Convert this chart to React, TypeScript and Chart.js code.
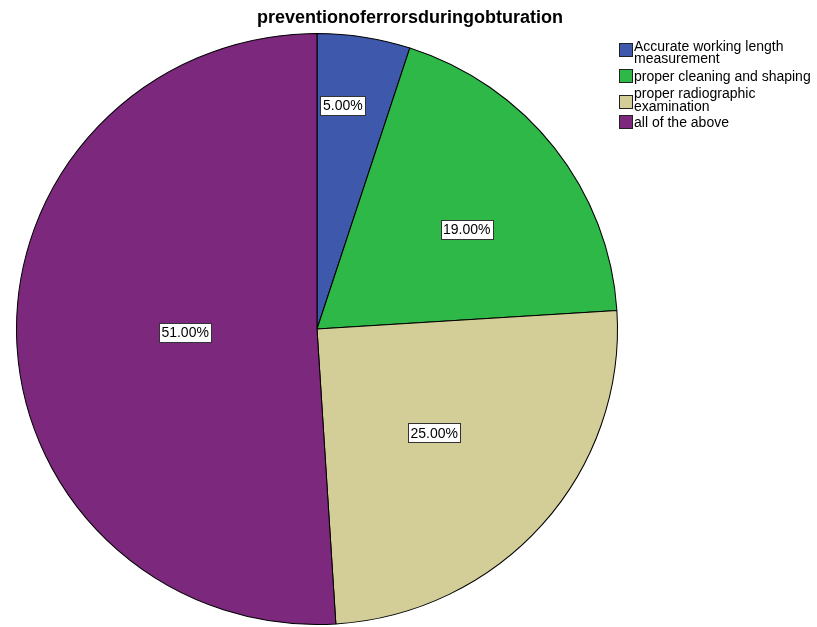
import React, { useEffect, useRef } from "react";
import { Chart, registerables } from "chart.js";

Chart.register(...registerables);

const titleText = "preventionoferrorsduringobturation";
const categories = [
  ["Accurate working length", "measurement"],
  ["proper cleaning and shaping"],
  ["proper radiographic", "examination"],
  ["all of the above"],
];
const percents = [5, 19, 25, 51];
const sliceColors = ["#3E58AC", "#2EB848", "#D3CE97", "#7C287D"];
// label placement inside each slice: fraction along the slice's angle, fraction of radius
const labelAngleFrac = [0.36, 0.554, 0.507, 0.502];
const labelRadiusFrac = [0.762, 0.602, 0.525, 0.439];

const FONT = "Arial, 'Liberation Sans', sans-serif";
const X_STRETCH = 301 / 296;

const stretchPlugin = {
  id: "stretch",
  beforeDatasetsDraw(chart: any) {
    const meta = chart.getDatasetMeta(0);
    const a = meta.data[0];
    if (!a) return;
    const ctx = chart.ctx;
    ctx.save();
    ctx.translate(a.x, a.y);
    ctx.scale(X_STRETCH, 1);
    ctx.translate(-a.x, -a.y);
  },
  afterDatasetsDraw(chart: any) {
    chart.ctx.restore();
  },
};

const overlayPlugin = {
  id: "overlay",
  afterDraw(chart: any) {
    const ctx = chart.ctx as CanvasRenderingContext2D;
    const meta = chart.getDatasetMeta(0);
    ctx.save();
    ctx.font = `14px ${FONT}`;
    ctx.textAlign = "center";
    ctx.textBaseline = "middle";
    meta.data.forEach((arc: any, i: number) => {
      const p = arc.getProps(["x", "y", "startAngle", "endAngle", "outerRadius"], true);
      const ang = p.startAngle + (p.endAngle - p.startAngle) * labelAngleFrac[i];
      const r = p.outerRadius * labelRadiusFrac[i];
      const x = p.x + Math.cos(ang) * r * X_STRETCH;
      const y = p.y + Math.sin(ang) * r;
      const txt = percents[i].toFixed(2) + "%";
      const w = Math.round(ctx.measureText(txt).width + 5);
      const h = 19;
      const lx = Math.round(x - w / 2) + 0.5;
      const ty = Math.round(y - h / 2) + 0.5;
      ctx.fillStyle = "#ffffff";
      ctx.fillRect(lx, ty, w, h);
      ctx.strokeStyle = "#333333";
      ctx.lineWidth = 1;
      ctx.strokeRect(lx, ty, w, h);
      ctx.fillStyle = "#000000";
      ctx.fillText(txt, x, y + 1);
    });
    ctx.font = `bold 18px ${FONT}`;
    ctx.fillStyle = "#000";
    ctx.textAlign = "center";
    ctx.fillText(titleText, 410, 18);
    ctx.font = `14px ${FONT}`;
    ctx.textAlign = "left";
    const boxTops = [43, 69, 95, 115];
    const textYs = [[47, 59], [77], [94, 107], [123]];
    categories.forEach((lines, i) => {
      ctx.fillStyle = sliceColors[i];
      ctx.fillRect(619.5, boxTops[i] + 0.5, 13, 13);
      ctx.strokeStyle = "#222";
      ctx.strokeRect(619.5, boxTops[i] + 0.5, 13, 13);
      ctx.fillStyle = "#000";
      lines.forEach((ln, j) => ctx.fillText(ln, 634, textYs[i][j]));
    });
    ctx.restore();
  },
};

export default function App() {
  const ref = useRef<HTMLCanvasElement>(null);
  useEffect(() => {
    document.body.style.margin = "0";
    const chart = new Chart(ref.current!, {
      type: "pie",
      data: {
        labels: categories.map((c) => c.join(" ")),
        datasets: [
          {
            data: percents,
            backgroundColor: sliceColors,
            borderColor: "#000000",
            borderWidth: 1,
          },
        ],
      },
      options: {
        animation: false,
        responsive: false,
        layout: { padding: { left: 21, right: 204, top: 33, bottom: 2 } },
        plugins: {
          legend: { display: false },
          title: { display: false },
          tooltip: { enabled: false },
        },
      },
      plugins: [stretchPlugin, overlayPlugin],
    });
    return () => chart.destroy();
  }, []);
  return (
    <div style={{ position: "absolute", left: 0, top: 0, width: 817, height: 627, background: "#fff" }}>
      <canvas ref={ref} width={817} height={627} />
    </div>
  );
}
